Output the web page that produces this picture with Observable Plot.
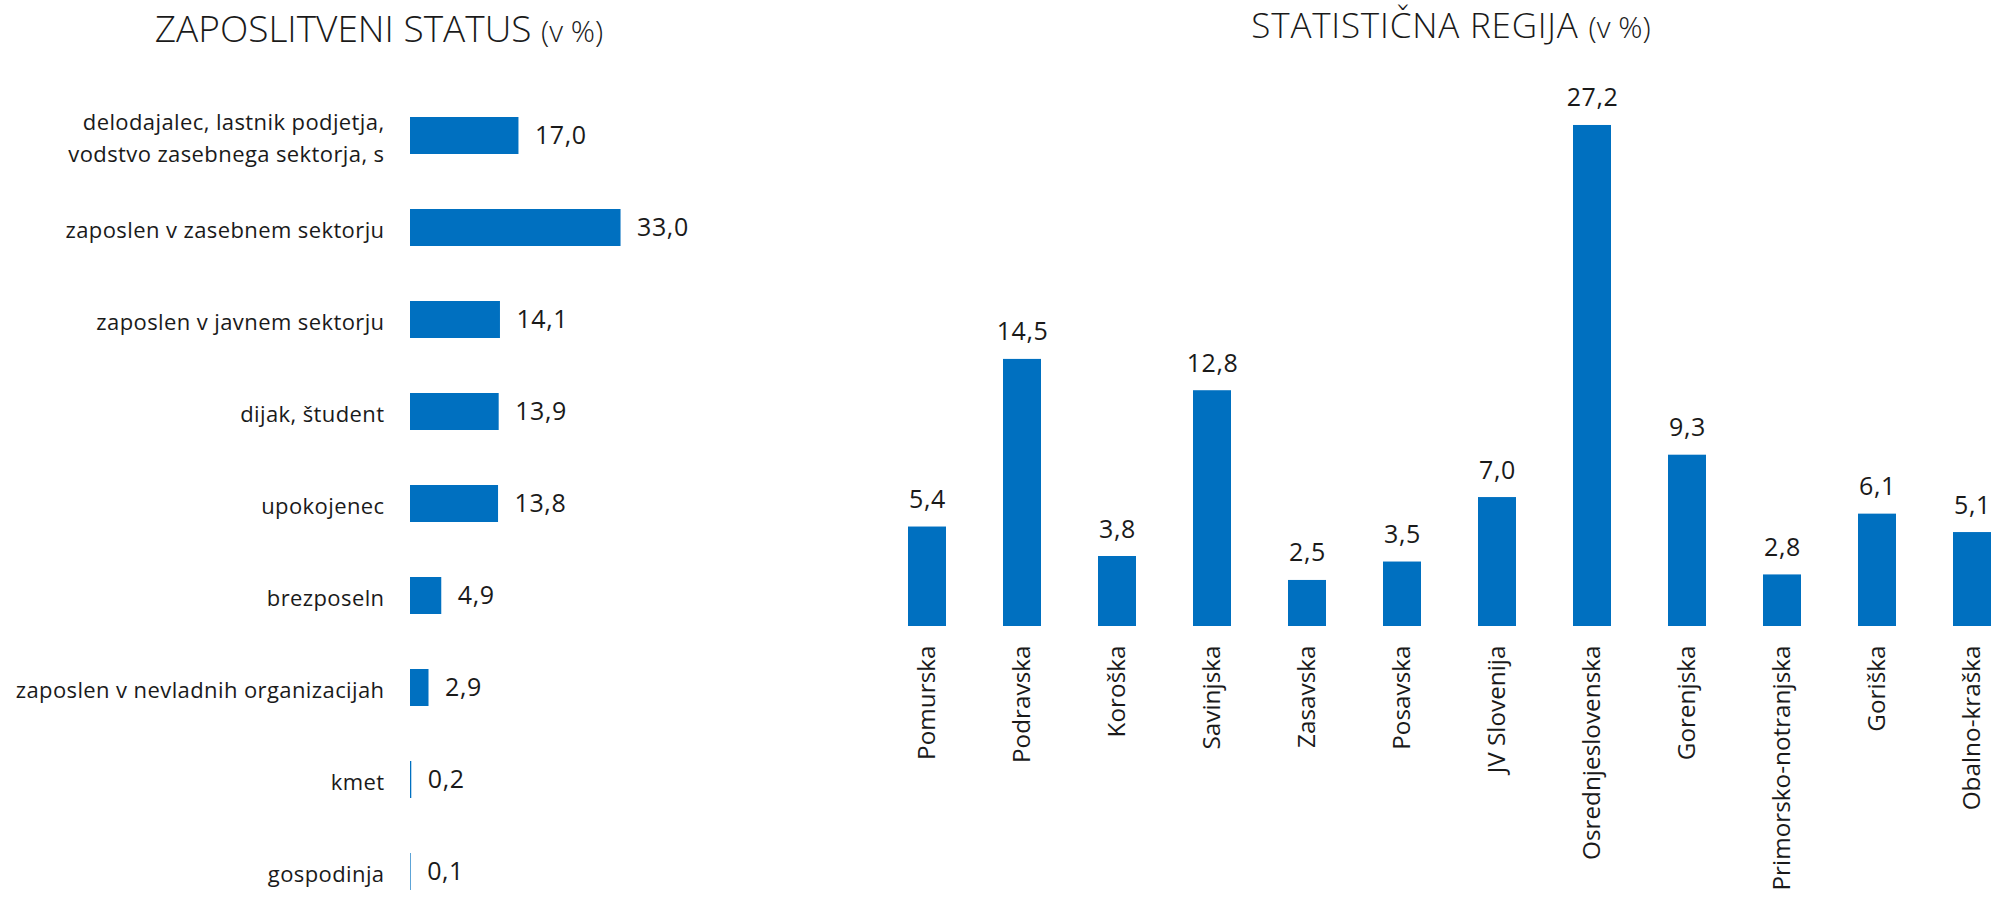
<!DOCTYPE html>
<html>
<head>
<meta charset="utf-8">
<script src="https://cdn.jsdelivr.net/npm/d3@7"></script>
<script src="https://cdn.jsdelivr.net/npm/@observablehq/plot@0.6"></script>
<style>
  html, body { margin: 0; padding: 0; background: #fff; width: 1992px; height: 897px; overflow: hidden; }
  body { position: relative; font-family: "Open Sans", "Noto Sans", sans-serif; font-weight: 300; color: #1a1a1a; }
  .chart { position: absolute; top: 0; }
  .title { position: absolute; z-index: 2; text-align: center; white-space: nowrap; line-height: 1; font-weight: 300; }
  .title .unit { font-size: 30px; letter-spacing: 0; }
  svg text { font-weight: 400; }
</style>
</head>
<body>
<div id="left" class="chart" style="left:0px"></div>
<div id="right" class="chart" style="left:850px"></div>
<div id="t1" class="title" style="left:79px;width:600px;top:9px;font-size:37px"></div>
<div id="t2" class="title" style="left:1151px;width:600px;top:7px;font-size:35px;letter-spacing:0.8px"></div>
<script>
// ---- data ----
const titleLeft = "ZAPOSLITVENI STATUS";
const titleRight = "STATISTIČNA REGIJA";
const titleUnit = "(v %)";

const statusLabels = [
  "delodajalec, lastnik podjetja,\nvodstvo zasebnega sektorja, s",
  "zaposlen v zasebnem sektorju",
  "zaposlen v javnem sektorju",
  "dijak, študent",
  "upokojenec",
  "brezposeln",
  "zaposlen v nevladnih organizacijah",
  "kmet",
  "gospodinja"
];
const statusValues = [17.0, 33.0, 14.1, 13.9, 13.8, 4.9, 2.9, 0.2, 0.1];

const regionLabels = [
  "Pomurska", "Podravska", "Koroška", "Savinjska", "Zasavska", "Posavska",
  "JV Slovenija", "Osrednjeslovenska", "Gorenjska", "Primorsko-notranjska",
  "Goriška", "Obalno-kraška"
];
const regionValues = [5.4, 14.5, 3.8, 12.8, 2.5, 3.5, 7.0, 27.2, 9.3, 2.8, 6.1, 5.1];

// ---- helpers ----
const BLUE = "#0070C0";
const INK = "#1a1a1a";
const FONT = '"Open Sans", "Noto Sans", sans-serif';
const fmt = v => v.toFixed(1).replace(".", ",");

const statusData = statusLabels.map((label, i) => ({label, value: statusValues[i]}));
const regionData = regionLabels.map((label, i) => ({label, value: regionValues[i]}));

document.getElementById("t1").innerHTML = titleLeft + ' <span class="unit">' + titleUnit + '</span>';
document.getElementById("t2").innerHTML = titleRight + ' <span class="unit">' + titleUnit + '</span>';

// ---- left: horizontal bars ----
const left = Plot.plot({
  width: 850,
  height: 897,
  marginLeft: 410,
  marginRight: 184.8,
  marginTop: 115,
  marginBottom: 6,
  style: {fontFamily: FONT, color: INK, background: "transparent", overflow: "visible"},
  x: {domain: [0, 40], axis: null},
  y: {domain: statusLabels, paddingInner: 0.6, paddingOuter: 0, axis: null},
  marks: [
    Plot.barX(statusData, {x: "value", y: "label", fill: BLUE}),
    Plot.text(statusData, {
      y: "label", text: "label", frameAnchor: "left", textAnchor: "end",
      dx: -26, fontSize: 22, lineHeight: 1.44, fill: INK
    }),
    Plot.text(statusData, {
      x: "value", y: "label", text: d => fmt(d.value), textAnchor: "start",
      dx: 16, fontSize: 25, fill: INK
    })
  ]
});
document.getElementById("left").appendChild(left);
{
  const groups = left.querySelectorAll('g[aria-label="text"]');
  if (groups[0]) groups[0].style.letterSpacing = "0.4px";
  if (groups[1]) groups[1].style.letterSpacing = "0.6px";
}

// ---- right: vertical bars ----
const right = Plot.plot({
  width: 1142,
  height: 897,
  marginLeft: 56.8,
  marginRight: 0,
  marginTop: 73.4,
  marginBottom: 271,
  style: {fontFamily: FONT, color: INK, background: "transparent", overflow: "visible"},
  x: {domain: regionLabels, paddingInner: 0.6, paddingOuter: 0},
  y: {domain: [0, 30], axis: null},
  marks: [
    Plot.barY(regionData, {x: "label", y: "value", fill: BLUE}),
    Plot.text(regionData, {
      x: "label", y: "value", text: d => fmt(d.value), lineAnchor: "bottom",
      dy: -19, fontSize: 25, fill: INK
    }),
    Plot.axisX({tickSize: 0, tickPadding: 19, tickRotate: -90, fontSize: 24.3, label: null, fill: INK})
  ]
});
document.getElementById("right").appendChild(right);
{
  const groups = right.querySelectorAll('g[aria-label="text"]');
  if (groups[0]) groups[0].style.letterSpacing = "0.6px";
}
</script>
</body>
</html>
